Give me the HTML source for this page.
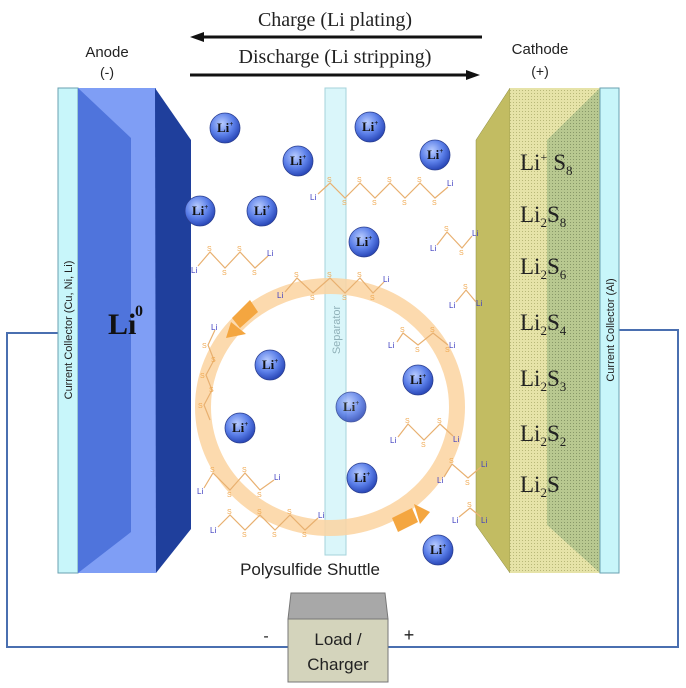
<!DOCTYPE html>
<html><head><meta charset="utf-8"><style>
html,body{margin:0;padding:0;background:#fff;}
svg{display:block;}
.s{font-family:"Liberation Sans",sans-serif;font-size:7px;fill:#f0a850;}
.l{font-family:"Liberation Sans",sans-serif;font-size:8px;fill:#4040c0;}
.ion{font-family:"Liberation Serif",serif;font-size:13px;font-weight:bold;fill:#111;}
.cs{font-family:"Liberation Serif",serif;font-size:23px;fill:#222;}
</style></head><body>
<svg width="686" height="688" viewBox="0 0 686 688" xmlns="http://www.w3.org/2000/svg">
<defs>
<radialGradient id="ball" cx="40%" cy="35%" r="65%">
<stop offset="0" stop-color="#b8ccff"/><stop offset="0.6" stop-color="#5a7ee8"/><stop offset="1" stop-color="#2a48b8"/>
</radialGradient>
<pattern id="dots" width="3" height="3" patternUnits="userSpaceOnUse">
<rect width="3" height="3" fill="#e6e3a8"/><rect width="1" height="1" fill="#b8b878"/>
</pattern>
<pattern id="dots2" width="3" height="3" patternUnits="userSpaceOnUse">
<rect width="3" height="3" fill="#b8c890"/><rect width="1" height="1" fill="#889868"/>
</pattern>
</defs>

<!-- wires -->
<polyline points="58,333 7,333 7,647 288,647" fill="none" stroke="#4a6fb0" stroke-width="2"/>
<polyline points="619,330 678,330 678,647 388,647" fill="none" stroke="#4a6fb0" stroke-width="2"/>

<!-- top arrows -->
<text x="335" y="26" text-anchor="middle" font-family="Liberation Serif,serif" font-size="20" fill="#222">Charge (Li plating)</text>
<line x1="200" y1="37" x2="482" y2="37" stroke="#111" stroke-width="3"/>
<polygon points="190,37 204,32 204,42" fill="#111"/>
<text x="335" y="63" text-anchor="middle" font-family="Liberation Serif,serif" font-size="20" fill="#222">Discharge (Li stripping)</text>
<line x1="190" y1="75" x2="470" y2="75" stroke="#111" stroke-width="3"/>
<polygon points="480,75 466,70 466,80" fill="#111"/>

<text x="107" y="57" text-anchor="middle" font-family="Liberation Sans,sans-serif" font-size="15" fill="#222">Anode</text>
<text x="107" y="77" text-anchor="middle" font-family="Liberation Sans,sans-serif" font-size="14" fill="#222">(-)</text>
<text x="540" y="54" text-anchor="middle" font-family="Liberation Sans,sans-serif" font-size="15" fill="#222">Cathode</text>
<text x="540" y="76" text-anchor="middle" font-family="Liberation Sans,sans-serif" font-size="14" fill="#222">(+)</text>

<!-- left collector -->
<rect x="58" y="88" width="20" height="485" fill="#c8f6fa" stroke="#6aa0b0" stroke-width="1"/>
<text transform="translate(72,330) rotate(-90)" text-anchor="middle" font-family="Liberation Sans,sans-serif" font-size="11" fill="#222">Current Collector (Cu, Ni, Li)</text>

<!-- anode -->
<rect x="78" y="88" width="78" height="485" fill="#7f9ef5"/>
<polygon points="78,88 131,138 131,532 78,573" fill="#4f74dc"/>
<polygon points="155,88 191,140 191,529 156,573" fill="#1f3f9c"/>
<text x="108" y="334" font-family="Liberation Serif,serif" font-size="30" font-weight="bold" fill="#111">Li</text>
<text x="135" y="316" font-family="Liberation Serif,serif" font-size="16" font-weight="bold" fill="#111">0</text>

<!-- separator -->
<rect x="325" y="88" width="21" height="467" fill="#d6f6fa" stroke="#9ccfd8" stroke-width="1" opacity="0.9"/>
<text transform="translate(340,330) rotate(-90)" text-anchor="middle" font-family="Liberation Sans,sans-serif" font-size="11" fill="#8fb0b8">Separator</text>

<!-- ring -->
<ellipse cx="330" cy="407" rx="127" ry="121" fill="none" stroke="#fbd4a0" stroke-width="16" opacity="0.85"/>
<polygon points="232,318 250,300 258,312 240,328" fill="#f4a640"/>
<polygon points="231,322 246,334 226,338" fill="#f4a640"/>
<polygon points="392,518 412,508 418,522 398,532" fill="#f4a640"/>
<polygon points="414,504 430,512 420,524" fill="#f4a640"/>

<!-- cathode -->
<polygon points="476,140 510,88 510,573 476,525" fill="#c2bc62" stroke="#8a8a40" stroke-width="0.5"/>
<rect x="510" y="88" width="90" height="485" fill="url(#dots)"/>
<polygon points="547,140 600,88 600,573 547,525" fill="url(#dots2)"/>
<rect x="600" y="88" width="19" height="485" fill="#c8f6fa" stroke="#6aa0b0" stroke-width="1"/>
<text transform="translate(614,330) rotate(-90)" text-anchor="middle" font-family="Liberation Sans,sans-serif" font-size="11" fill="#222">Current Collector (Al)</text>

<text class="cs" x="520" y="170">Li<tspan font-size="12" dy="-9">+</tspan><tspan dx="6" dy="9">S</tspan><tspan font-size="13" dy="5">8</tspan></text>
<text class="cs" x="520" y="222">Li<tspan font-size="13" dy="5">2</tspan><tspan dy="-5">S</tspan><tspan font-size="13" dy="5">8</tspan></text>
<text class="cs" x="520" y="274">Li<tspan font-size="13" dy="5">2</tspan><tspan dy="-5">S</tspan><tspan font-size="13" dy="5">6</tspan></text>
<text class="cs" x="520" y="330">Li<tspan font-size="13" dy="5">2</tspan><tspan dy="-5">S</tspan><tspan font-size="13" dy="5">4</tspan></text>
<text class="cs" x="520" y="386">Li<tspan font-size="13" dy="5">2</tspan><tspan dy="-5">S</tspan><tspan font-size="13" dy="5">3</tspan></text>
<text class="cs" x="520" y="441">Li<tspan font-size="13" dy="5">2</tspan><tspan dy="-5">S</tspan><tspan font-size="13" dy="5">2</tspan></text>
<text class="cs" x="520" y="492">Li<tspan font-size="13" dy="5">2</tspan><tspan dy="-5">S</tspan></text>

<!-- chains -->
<g fill="none" stroke="#e8b070" stroke-width="1.2">
<polyline points="318,194 330,183 345,198 360,183 375,198 390,183 405,198 420,183 435,198 448,187"/>
<polyline points="198,266 210,252 225,268 240,252 255,268 268,256"/>
<polyline points="285,292 297,278 313,293 330,278 345,293 360,278 373,293 384,282"/>
<polyline points="437,245 447,232 462,248 472,236"/>
<polyline points="456,302 466,290 476,302"/>
<polyline points="397,342 403,333 418,345 433,333 448,345"/>
<polyline points="215,330 208,345 214,360 206,375 212,390 204,405 210,420"/>
<polyline points="204,488 213,473 230,490 245,473 260,490 274,480"/>
<polyline points="218,527 230,515 245,530 260,515 275,530 290,515 305,530 318,518"/>
<polyline points="398,437 408,424 424,440 440,424 453,436"/>
<polyline points="444,477 452,464 468,478 481,467"/>
<polyline points="459,517 470,508 481,517"/>
</g>
<g class="s">
<text x="327" y="182">S</text><text x="342" y="205">S</text><text x="357" y="182">S</text><text x="372" y="205">S</text><text x="387" y="182">S</text><text x="402" y="205">S</text><text x="417" y="182">S</text><text x="432" y="205">S</text>
<text x="207" y="251">S</text><text x="222" y="275">S</text><text x="237" y="251">S</text><text x="252" y="275">S</text>
<text x="294" y="277">S</text><text x="310" y="300">S</text><text x="327" y="277">S</text><text x="342" y="300">S</text><text x="357" y="277">S</text><text x="370" y="300">S</text>
<text x="444" y="231">S</text><text x="459" y="255">S</text><text x="463" y="289">S</text>
<text x="400" y="332">S</text><text x="415" y="352">S</text><text x="430" y="332">S</text><text x="445" y="352">S</text>
<text x="202" y="348">S</text><text x="211" y="362">S</text><text x="200" y="378">S</text><text x="209" y="392">S</text><text x="198" y="408">S</text>
<text x="210" y="472">S</text><text x="227" y="497">S</text><text x="242" y="472">S</text><text x="257" y="497">S</text>
<text x="227" y="514">S</text><text x="242" y="537">S</text><text x="257" y="514">S</text><text x="272" y="537">S</text><text x="287" y="514">S</text><text x="302" y="537">S</text>
<text x="405" y="423">S</text><text x="421" y="447">S</text><text x="437" y="423">S</text>
<text x="449" y="463">S</text><text x="465" y="485">S</text><text x="467" y="507">S</text>
</g>
<g class="l">
<text x="310" y="200">Li</text><text x="447" y="186">Li</text>
<text x="191" y="273">Li</text><text x="267" y="256">Li</text>
<text x="277" y="298">Li</text><text x="383" y="282">Li</text>
<text x="430" y="251">Li</text><text x="472" y="236">Li</text>
<text x="449" y="308">Li</text><text x="476" y="306">Li</text>
<text x="388" y="348">Li</text><text x="449" y="348">Li</text>
<text x="211" y="330">Li</text>
<text x="197" y="494">Li</text><text x="274" y="480">Li</text>
<text x="210" y="533">Li</text><text x="318" y="518">Li</text>
<text x="390" y="443">Li</text><text x="453" y="442">Li</text>
<text x="437" y="483">Li</text><text x="481" y="467">Li</text>
<text x="452" y="523">Li</text><text x="481" y="523">Li</text>
</g>

<!-- Li+ balls -->
<g>
<g transform="translate(225,128)"><circle r="15" fill="url(#ball)" stroke="#2a3e90" stroke-width="0.8"/><text class="ion" x="-8" y="4">Li<tspan font-size="7" dy="-6">+</tspan></text></g>
<g transform="translate(298,161)"><circle r="15" fill="url(#ball)" stroke="#2a3e90" stroke-width="0.8"/><text class="ion" x="-8" y="4">Li<tspan font-size="7" dy="-6">+</tspan></text></g>
<g transform="translate(370,127)"><circle r="15" fill="url(#ball)" stroke="#2a3e90" stroke-width="0.8"/><text class="ion" x="-8" y="4">Li<tspan font-size="7" dy="-6">+</tspan></text></g>
<g transform="translate(435,155)"><circle r="15" fill="url(#ball)" stroke="#2a3e90" stroke-width="0.8"/><text class="ion" x="-8" y="4">Li<tspan font-size="7" dy="-6">+</tspan></text></g>
<g transform="translate(200,211)"><circle r="15" fill="url(#ball)" stroke="#2a3e90" stroke-width="0.8"/><text class="ion" x="-8" y="4">Li<tspan font-size="7" dy="-6">+</tspan></text></g>
<g transform="translate(262,211)"><circle r="15" fill="url(#ball)" stroke="#2a3e90" stroke-width="0.8"/><text class="ion" x="-8" y="4">Li<tspan font-size="7" dy="-6">+</tspan></text></g>
<g transform="translate(364,242)"><circle r="15" fill="url(#ball)" stroke="#2a3e90" stroke-width="0.8"/><text class="ion" x="-8" y="4">Li<tspan font-size="7" dy="-6">+</tspan></text></g>
<g transform="translate(270,365)"><circle r="15" fill="url(#ball)" stroke="#2a3e90" stroke-width="0.8"/><text class="ion" x="-8" y="4">Li<tspan font-size="7" dy="-6">+</tspan></text></g>
<g transform="translate(418,380)"><circle r="15" fill="url(#ball)" stroke="#2a3e90" stroke-width="0.8"/><text class="ion" x="-8" y="4">Li<tspan font-size="7" dy="-6">+</tspan></text></g>
<g transform="translate(351,407)" opacity="0.85"><circle r="15" fill="url(#ball)" stroke="#2a3e90" stroke-width="0.8"/><text class="ion" x="-8" y="4">Li<tspan font-size="7" dy="-6">+</tspan></text></g>
<g transform="translate(240,428)"><circle r="15" fill="url(#ball)" stroke="#2a3e90" stroke-width="0.8"/><text class="ion" x="-8" y="4">Li<tspan font-size="7" dy="-6">+</tspan></text></g>
<g transform="translate(362,478)"><circle r="15" fill="url(#ball)" stroke="#2a3e90" stroke-width="0.8"/><text class="ion" x="-8" y="4">Li<tspan font-size="7" dy="-6">+</tspan></text></g>
<g transform="translate(438,550)"><circle r="15" fill="url(#ball)" stroke="#2a3e90" stroke-width="0.8"/><text class="ion" x="-8" y="4">Li<tspan font-size="7" dy="-6">+</tspan></text></g>
</g>

<text x="310" y="575" text-anchor="middle" font-family="Liberation Sans,sans-serif" font-size="17" fill="#222">Polysulfide Shuttle</text>

<!-- load box -->
<polygon points="291,593 385,593 388,619 288,619" fill="#a8a8a8" stroke="#777" stroke-width="1"/>
<rect x="288" y="619" width="100" height="63" fill="#d4d4bc" stroke="#777" stroke-width="1"/>
<text x="338" y="645" text-anchor="middle" font-family="Liberation Sans,sans-serif" font-size="17" fill="#222">Load /</text>
<text x="338" y="670" text-anchor="middle" font-family="Liberation Sans,sans-serif" font-size="17" fill="#222">Charger</text>
<text x="266" y="641" text-anchor="middle" font-family="Liberation Sans,sans-serif" font-size="16" fill="#222">-</text>
<text x="409" y="641" text-anchor="middle" font-family="Liberation Sans,sans-serif" font-size="18" fill="#222">+</text>
</svg>
</body></html>
